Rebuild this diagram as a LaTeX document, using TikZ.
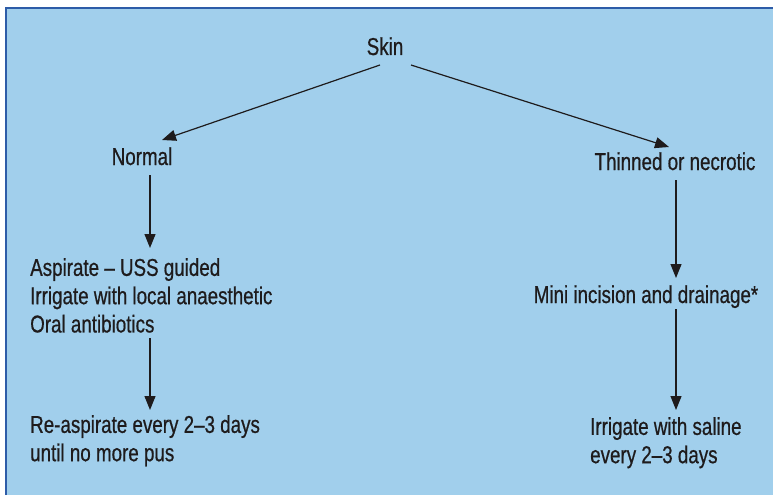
\documentclass[tikz,border=0pt]{standalone}
\usepackage{fontspec}
\setmainfont{Liberation Sans}[FakeStretch=0.77,FakeBold=0.6]
\usetikzlibrary{arrows.meta}
\definecolor{bgblue}{RGB}{161,207,236}
\definecolor{edgeblue}{RGB}{45,92,168}
\definecolor{ink}{RGB}{30,27,28}
\tikzset{
  lbl/.style={inner sep=0pt, text=ink, font=\fontsize{24.4}{28.3}\selectfont},
  blk/.style={lbl, align=left, anchor=north west},
  arr/.style={draw=ink, line width=1.2pt, -{Triangle[length=14pt,width=11pt]}}
}
\begin{document}
\begin{tikzpicture}[x=1pt,y=-1pt]
\useasboundingbox (0,0) rectangle (773,495);
\fill[white] (0,0) rectangle (773,495);
\fill[bgblue] (6,8) rectangle (773,495);
\draw[edgeblue, line width=2pt] (6,495) -- (6,8) -- (773,8);

\node[lbl, anchor=base] (skin) at (385,55) {Skin};
\node[lbl, anchor=base] (normal) at (142,165) {Normal};
\node[lbl, anchor=base] (thin) at (675,170) {Thinned or necrotic};
\node[blk] (asp) at (30,258) {Aspirate – USS guided\\Irrigate with local anaesthetic\\Oral antibiotics};
\node[blk] (reasp) at (30,415) {Re-aspirate every 2–3 days\\until no more pus};
\node[lbl, anchor=base] (mini) at (646,303) {Mini incision and drainage*};
\node[blk] (irr) at (590,417) {Irrigate with saline\\every 2–3 days};

\draw[arr] ([shift={(-5,10)}]skin.base) -- ([shift={(20,-25)}]normal.base);
\draw[arr] ([shift={(26,10)}]skin.base) -- ([shift={(-6,-23)}]thin.base);
\draw[arr] ([shift={(8,10)}]normal.base) -- ([shift={(120,-10)}]asp.north west);
\draw[arr] ([shift={(120,80)}]asp.north west) -- ([shift={(120,-5)}]reasp.north west);
\draw[arr] ([shift={(1,10)}]thin.base) -- ([shift={(30,-25)}]mini.base);
\draw[arr] ([shift={(30,6)}]mini.base) -- ([shift={(86,-7)}]irr.north west);
\end{tikzpicture}
\end{document}
